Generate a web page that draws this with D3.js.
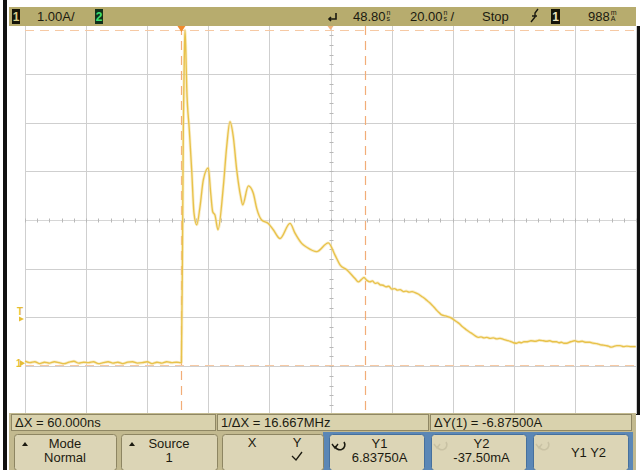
<!DOCTYPE html>
<html><head><meta charset="utf-8">
<script src="https://cdn.jsdelivr.net/npm/d3@7"></script>
<style>
body{margin:0;background:#fff}
svg{display:block}
text{font-family:"Liberation Sans",Arial,sans-serif}
</style>
</head><body>
<svg id="scope" width="641" height="470"></svg>
<script>
// Scope settings: 20 ns/div, delay 48.80 ns, 1.00 A/div
const timePerDiv = 20, delayNs = 48.8, ampsPerDiv = 1, offsetA = 2.938;

// Captured channel-1 current waveform (time in ns, current in A)
const timeNs = [
  -51.2,-49.6,-48.0,-46.4,-44.8,-43.2,-41.6,-40.0,-38.4,-36.8,-35.2,-33.6,-32.0,-30.4,-28.8,-27.2,
  -25.6,-24.0,-22.4,-20.8,-19.2,-17.6,-16.0,-14.4,-12.8,-11.2,-9.6,-8.0,-6.4,-4.8,-3.2,-1.6,-0.3,
  0.0,0.42,0.62,0.95,1.17,1.45,1.73,2.58,3.36,4.12,5.0,6.08,7.16,8.8,9.59,10.24,10.99,11.97,
  13.71,14.82,15.9,16.98,18.1,19.4,20.06,21.9,23.53,24.64,26.28,28.44,30.07,32.27,35.54,37.18,
  39.37,41.01,44.28,48.08,50.27,51.91,54.1,56.82,57.9,58.8,59.76,60.7,61.73,62.5,63.4,64.2,
  65.0,66.0,67.0,67.9,68.83,69.8,70.7,71.6,72.63,73.6,74.5,75.5,76.46,77.5,78.65,79.4,80.3,
  81.1,81.92,82.7,83.5,84.3,85.19,86.5,87.91,89.0,90.11,91.0,91.8,92.6,93.38,94.3,95.3,96.2,
  97.18,98.1,99.0,100.0,101.0,102.1,103.2,104.3,105.4,106.5,107.6,108.7,109.7,110.5,111.3,
  112.1,113.0,114.4,115.8,117.1,118.5,119.5,120.6,121.7,122.8,123.6,124.4,125.2,126.1,127.4,
  128.8,130.0,131.2,132.4,133.7,134.8,136.0,137.0,138.1,139.0,139.8,140.6,141.4,142.5,143.6,
  144.7,145.8,147.2,148.7
];
const currentA = [
  0.04,0.01,0.03,-0.01,0.02,0.00,0.03,0.01,-0.01,0.02,0.04,0.00,0.02,0.01,0.03,-0.01,
  0.01,0.03,0.00,0.02,-0.01,0.02,0.03,0.00,0.01,0.03,-0.01,0.02,0.00,0.03,0.01,0.02,0.01,
  0.02,2.94,4.79,6.30,6.84,6.40,5.68,4.79,3.97,3.08,2.84,3.21,3.76,4.01,3.49,3.11,3.04,2.74,
  3.62,4.45,4.96,4.65,3.97,3.42,3.25,3.64,3.49,3.18,2.94,2.87,2.74,2.56,2.87,2.67,
  2.46,2.38,2.29,2.47,2.22,2.02,1.92,1.74,1.67,1.71,1.76,1.70,1.67,1.69,1.64,1.65,
  1.61,1.60,1.57,1.58,1.52,1.53,1.50,1.51,1.47,1.48,1.46,1.47,1.45,1.42,1.37,1.34,1.29,
  1.25,1.20,1.15,1.09,1.04,0.99,0.97,0.94,0.90,0.85,0.81,0.76,0.72,0.68,0.64,0.60,0.56,
  0.53,0.54,0.52,0.53,0.51,0.52,0.50,0.51,0.49,0.47,0.45,0.42,0.41,0.43,0.42,
  0.44,0.44,0.46,0.45,0.47,0.46,0.45,0.46,0.44,0.44,0.42,0.43,0.41,0.41,0.44,
  0.46,0.44,0.45,0.43,0.43,0.41,0.40,0.38,0.37,0.36,0.35,0.33,0.34,0.36,0.36,
  0.34,0.35,0.34,0.34
];

// Cursors: X1/X2 in ns, Y1/Y2 in A
const cursorTimes = [0, 60];
const cursorLevels = [6.8375, -0.0375];

// Header and softkey texts
const headerScale = "1.00A/";
const headerDelay = ["48.80", "ns"];
const headerTimebase = ["20.00", "ns", "/"];
const headerRun = "Stop";
const headerTrigLevel = ["988", "mA"];
const statusTexts = ["\u0394X = 60.000ns", "1/\u0394X = 16.667MHz", "\u0394Y(1) = -6.87500A"];
const softkeys = [
  {top: "Mode", bottom: "Normal"},
  {top: "Source", bottom: "1"},
  {top: "X", bottom: "Y"},
  {top: "Y1", bottom: "6.83750A"},
  {top: "Y2", bottom: "-37.50mA"},
  {top: "Y1 Y2", bottom: ""}
];

const svg = d3.select("#scope");
const L = 25, R = 636, T = 25.3, B = 414.9;
const x = d3.scaleLinear().domain([delayNs - 5 * timePerDiv, delayNs + 5 * timePerDiv]).range([L, R]);
const y = d3.scaleLinear().domain([offsetA - 4 * ampsPerDiv, offsetA + 4 * ampsPerDiv]).range([B, T]);
const xDiv = d3.scaleLinear().domain([0, 10]).range([L, R]);
const yDiv = d3.scaleLinear().domain([0, 8]).range([T, B]);

// side frame
svg.append("rect").attr("x", 3).attr("y", 0).attr("width", 4).attr("height", 470).attr("fill", "#111");
svg.append("rect").attr("x", 636).attr("y", 26).attr("width", 4).attr("height", 389).attr("fill", "#111");

// graticule
const grid = svg.append("g").attr("stroke", "#cfcfcf").attr("stroke-width", 1);
d3.range(0, 11).forEach(i => {
  const xx = Math.round(xDiv(i)) + 0.5;
  grid.append("line").attr("x1", xx).attr("x2", xx).attr("y1", 26).attr("y2", 414)
    .attr("stroke", i === 5 ? "#d6d6d6" : "#cfcfcf");
});
d3.range(1, 8).forEach(j => {
  const yy = Math.round(yDiv(j)) + 0.5;
  grid.append("line").attr("x1", L).attr("x2", R).attr("y1", yy).attr("y2", yy)
    .attr("stroke", j === 4 ? "#d6d6d6" : "#cfcfcf");
});
// minor ticks on the centre axes
const cy = Math.round(yDiv(4)) + 0.5, cx = Math.round(xDiv(5)) + 0.5;
d3.range(0, 51).forEach(k => {
  const xx = Math.round(xDiv(k / 5)) + 0.5;
  grid.append("line").attr("x1", xx).attr("x2", xx).attr("y1", cy - 2).attr("y2", cy + 2).attr("stroke", "#b8b8b8");
});
d3.range(0, 41).forEach(k => {
  const yy = Math.round(yDiv(k / 5)) + 0.5;
  grid.append("line").attr("x1", cx - 2).attr("x2", cx + 2).attr("y1", yy).attr("y2", yy).attr("stroke", "#b8b8b8");
});

// cursors
cursorLevels.forEach(v => {
  svg.append("line").attr("x1", L).attr("x2", R).attr("y1", Math.round(y(v)) + 0.5).attr("y2", Math.round(y(v)) + 0.5)
    .attr("stroke", "#f6c9a4").attr("stroke-width", 1.2).attr("stroke-dasharray", "9,6");
});
cursorTimes.forEach(v => {
  svg.append("line").attr("x1", Math.round(x(v)) + 0.5).attr("x2", Math.round(x(v)) + 0.5).attr("y1", 26).attr("y2", 414)
    .attr("stroke", "#f2ad78").attr("stroke-width", 1.2).attr("stroke-dasharray", "9,6");
});

// waveform
const pts = timeNs.map((t, i) => [t, currentA[i]]);
const line = d3.line().x(d => x(d[0])).y(d => y(d[1])).curve(d3.curveMonotoneX);
svg.append("path").attr("d", line(pts)).attr("fill", "none").attr("stroke", "#f3dc94")
  .attr("stroke-width", 3).attr("stroke-opacity", 0.5).attr("stroke-linejoin", "round");
svg.append("path").attr("d", line(pts)).attr("fill", "none").attr("stroke", "#e8c24a")
  .attr("stroke-width", 1.35).attr("stroke-linejoin", "round");

// left-edge markers: trigger level and ground reference
const gnd = y(0), trig = y(1.0);
svg.append("text").attr("x", 17).attr("y", trig + 1).attr("font-size", 10).attr("font-weight", "bold")
  .attr("fill", "#e6bd35").text("T");
svg.append("path").attr("d", `M19,${trig + 2} L24,${trig + 4.5} L19,${trig + 7}Z`).attr("fill", "#e6bd35");
svg.append("text").attr("x", 16).attr("y", gnd + 4).attr("font-size", 10).attr("font-weight", "bold")
  .attr("fill", "#e6bd35").text("1");
svg.append("path").attr("d", `M20,${gnd - 3} L25,${gnd} L20,${gnd + 3}Z`).attr("fill", "#e6bd35");

// top markers: X1 cursor and time reference
svg.append("path").attr("d", `M${x(0) - 4},26 L${x(0) + 4},26 L${x(0)},32Z`).attr("fill", "#f08a2c");
svg.append("path").attr("d", `M${xDiv(5) - 3},26 L${xDiv(5) + 3},26 L${xDiv(5)},30Z`).attr("fill", "#f2b27c");

// header bar
svg.append("rect").attr("x", 9).attr("y", 7).attr("width", 627).attr("height", 19).attr("fill", "#b7ac6e");
svg.append("rect").attr("x", 12).attr("y", 9).attr("width", 8).attr("height", 15).attr("fill", "#141408");
svg.append("text").attr("x", 16).attr("y", 21).attr("text-anchor", "middle").attr("font-size", 12).attr("font-weight", "bold").attr("fill", "#d6cc8a").text("1");
svg.append("text").attr("x", 37).attr("y", 21).attr("font-size", 13).attr("fill", "#1b1a10").text(headerScale);
svg.append("rect").attr("x", 95).attr("y", 9).attr("width", 8).attr("height", 15).attr("fill", "#10301a");
svg.append("text").attr("x", 99).attr("y", 21).attr("text-anchor", "middle").attr("font-size", 12).attr("font-weight", "bold").attr("fill", "#3ee070").text("2");

function unitText(x0, parts) {
  const t = svg.append("text").attr("x", x0).attr("y", 21).attr("font-size", 13).attr("fill", "#1b1a10").text(parts[0]);
  let xe = x0 + t.node().getComputedTextLength() + 1;
  svg.append("text").attr("x", xe).attr("y", 15).attr("font-size", 7).attr("fill", "#1b1a10").text(parts[1][0]);
  svg.append("text").attr("x", xe).attr("y", 21).attr("font-size", 7).attr("fill", "#1b1a10").text(parts[1].slice(1));
  xe += 7;
  if (parts[2]) svg.append("text").attr("x", xe).attr("y", 21).attr("font-size", 13).attr("fill", "#1b1a10").text(parts[2]);
}
// trigger-position symbol
svg.append("path").attr("d", "M336,13 L336,19 L329,19 M331,17 L329,19 L331,21").attr("fill", "none")
  .attr("stroke", "#1b1a10").attr("stroke-width", 1.6);
unitText(353, headerDelay);
unitText(410, headerTimebase);
svg.append("text").attr("x", 482).attr("y", 21).attr("font-size", 13).attr("fill", "#1b1a10").text(headerRun);
svg.append("path").attr("d", "M531,22 L535,17 L535,13 L538,9 M532,16 L537,16").attr("fill", "none")
  .attr("stroke", "#1b1a10").attr("stroke-width", 1.4);
svg.append("rect").attr("x", 551).attr("y", 9).attr("width", 9).attr("height", 15).attr("fill", "#141408");
svg.append("text").attr("x", 555.5).attr("y", 21).attr("text-anchor", "middle").attr("font-size", 12).attr("font-weight", "bold").attr("fill", "#e8e2c0").text("1");
unitText(588, headerTrigLevel);

// status line
svg.append("rect").attr("x", 9).attr("y", 413).attr("width", 627).attr("height", 57).attr("fill", "#c2b98f");
const statusBoxes = [[11, 215], [217, 428], [430, 631]];
statusBoxes.forEach((b, i) => {
  svg.append("rect").attr("x", b[0] + 0.5).attr("y", 414.5).attr("width", b[1] - b[0]).attr("height", 16)
    .attr("fill", "#d9d2ad").attr("stroke", "#8f8764");
  svg.append("text").attr("x", b[0] + 4).attr("y", 427).attr("font-size", 13).attr("fill", "#1b1a10").text(statusTexts[i]);
});

// softkeys
svg.append("rect").attr("x", 323).attr("y", 432).attr("width", 310).attr("height", 38).attr("fill", "#5b87b6");
const keyBoxes = [[14, 116], [121, 217], [222, 323], [329, 424], [431, 526], [533, 628]];
keyBoxes.forEach((b, i) => {
  const g = svg.append("g");
  g.append("rect").attr("x", b[0] + 0.5).attr("y", 434.5).attr("width", b[1] - b[0]).attr("height", 36).attr("rx", 3)
    .attr("fill", "#dcd5b6").attr("stroke", i >= 3 ? "#46709d" : "#8d8562").attr("stroke-width", 1);
  const mid = (b[0] + b[1]) / 2;
  const k = softkeys[i];
  if (i === 2) {
    g.append("text").attr("x", b[0] + 30).attr("y", 447).attr("text-anchor", "middle").attr("font-size", 13).attr("fill", "#1b1a10").text(k.top);
    g.append("text").attr("x", b[0] + 75).attr("y", 447).attr("text-anchor", "middle").attr("font-size", 13).attr("fill", "#1b1a10").text(k.bottom);
    g.append("path").attr("d", `M${b[0] + 70},456 L${b[0] + 74},460 L${b[0] + 80},452`).attr("fill", "none").attr("stroke", "#1b1a10").attr("stroke-width", 1.3);
  } else if (i === 5) {
    g.append("text").attr("x", mid + 8).attr("y", 457).attr("text-anchor", "middle").attr("font-size", 13).attr("fill", "#1b1a10").text(k.top);
  } else {
    const cxText = i >= 3 ? mid + 3 : mid;
    g.append("text").attr("x", cxText).attr("y", 448).attr("text-anchor", "middle").attr("font-size", 13).attr("fill", "#1b1a10").text(k.top);
    g.append("text").attr("x", cxText).attr("y", 462).attr("text-anchor", "middle").attr("font-size", 13).attr("fill", "#1b1a10").text(k.bottom);
  }
  if (i < 2) {
    g.append("path").attr("d", `M${b[0] + 8},446 L${b[0] + 11},442 L${b[0] + 14},446Z`).attr("fill", "#1b1a10");
  }
  if (i >= 3) {
    const ix = b[0] + 11, iy = 446;
    const active = i === 3;
    g.append("path").attr("d", `M${ix + 4},${iy - 4} A5,5 0 1,1 ${ix - 5},${iy}`).attr("fill", "none")
      .attr("stroke", active ? "#1b1a10" : "#c9c2a4").attr("stroke-width", 1.6);
    g.append("path").attr("d", `M${ix - 8},${iy - 2} L${ix - 5},${iy + 2} L${ix - 2},${iy - 2}`).attr("fill", "none")
      .attr("stroke", active ? "#1b1a10" : "#c9c2a4").attr("stroke-width", 1.4);
  }
});
</script>
</body></html>
